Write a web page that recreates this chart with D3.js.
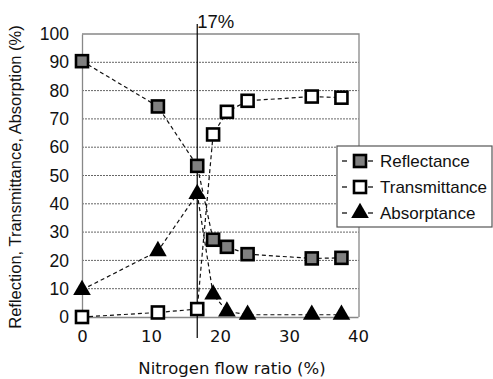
<!DOCTYPE html>
<html><head><meta charset="utf-8">
<script src="https://cdn.jsdelivr.net/npm/d3@7"></script>
<style>body{margin:0;background:#fff}svg{display:block}</style>
</head><body>
<script>
const xTicks = [0, 10, 20, 30, 40];
const yTicks = [0, 10, 20, 30, 40, 50, 60, 70, 80, 90, 100];
const seriesNames = ["Reflectance", "Transmittance", "Absorptance"];
const reflX = [0, 11, 16.7, 19.0, 21.0, 24.0, 33.3, 37.6];
const reflY = [90.4, 74.4, 53.4, 27.3, 24.8, 22.2, 20.7, 20.9];
const transX = [0, 11, 16.7, 19.0, 21.0, 24.0, 33.3, 37.6];
const transY = [0, 1.6, 2.8, 64.5, 72.5, 76.4, 77.9, 77.5];
const absX = [0, 11, 16.7, 19.0, 21.0, 24.0, 33.3, 37.6];
const absY = [9.6, 23.3, 43.5, 8.0, 2.0, 0.8, 0.8, 0.8];
const markerLine = 16.7;
const markerLabel = "17%";

const W = 493, H = 379;
const svg = d3.select("body").append("svg").attr("width", W).attr("height", H);
const x = d3.scaleLinear().domain([0, 40]).range([82, 358]);
const y = d3.scaleLinear().domain([0, 100]).range([317, 34]);
const L = 82, R = 359, T = 34, B = 317;
const ARIAL = "Liberation Sans, Arial, sans-serif";
const VERD = "DejaVu Sans, Verdana, sans-serif";

// gridlines
svg.append("g").selectAll("line").data(yTicks.filter(d => d > 0 && d < 100)).join("line")
  .attr("x1", L).attr("x2", R).attr("y1", d => y(d)).attr("y2", d => y(d))
  .attr("stroke", "#666").attr("stroke-width", 1).attr("stroke-dasharray", "2,1");
// border top/right
svg.append("path").attr("d", `M${L},${T}H${R}V${B}`).attr("fill", "none").attr("stroke", "#888").attr("stroke-width", 1.3);

// axes
const yAxis = svg.append("g").attr("transform", `translate(${L},0)`)
  .call(d3.axisLeft(y).tickValues(yTicks).tickSize(0).tickPadding(13));
yAxis.select(".domain").attr("stroke", "#888").attr("stroke-width", 1.3);
yAxis.selectAll("text").attr("font-family", ARIAL).attr("font-size", 17.5).attr("fill", "#111");
const xAxis = svg.append("g").attr("transform", `translate(0,${B})`)
  .call(d3.axisBottom(x).tickValues(xTicks).tickSize(0).tickPadding(13));
xAxis.select(".domain").attr("stroke", "#888").attr("stroke-width", 1.3);
xAxis.selectAll("text").attr("font-family", VERD).attr("font-size", 16.5).attr("fill", "#111");

// vertical marker line
svg.append("line").attr("x1", x(markerLine)).attr("x2", x(markerLine)).attr("y1", 24).attr("y2", 338)
  .attr("stroke", "#000").attr("stroke-width", 1.2);
svg.append("text").attr("x", x(markerLine)).attr("y", 28).text(markerLabel)
  .attr("font-family", ARIAL).attr("font-size", 18.5).attr("fill", "#111");

const line = d3.line().x(d => x(d[0])).y(d => y(d[1]));
const series = [
  {name: seriesNames[0], pts: d3.zip(reflX, reflY), type: "square", fill: "#808080"},
  {name: seriesNames[1], pts: d3.zip(transX, transY), type: "square", fill: "#fff"},
  {name: seriesNames[2], pts: d3.zip(absX, absY), type: "tri", fill: "#000"}
];
const tri = d3.symbol().type(d3.symbolTriangle).size(135);
function drawMarker(g, s, cx, cy) {
  if (s.type === "square") {
    g.append("rect").attr("x", cx - 6).attr("y", cy - 6).attr("width", 12).attr("height", 12)
      .attr("fill", s.fill).attr("stroke", "#000").attr("stroke-width", 2.6);
  } else {
    g.append("path").attr("d", tri()).attr("transform", `translate(${cx},${cy})`).attr("fill", "#000");
  }
}
series.forEach(s => {
  svg.append("path").attr("d", line(s.pts)).attr("fill", "none").attr("stroke", "#111")
    .attr("stroke-width", 1.2).attr("stroke-dasharray", "4,3");
});
series.forEach(s => {
  const g = svg.append("g");
  s.pts.forEach(p => drawMarker(g, s, x(p[0]), y(p[1])));
});

// legend
const lg = svg.append("g");
lg.append("rect").attr("x", 337).attr("y", 146).attr("width", 155).attr("height", 81)
  .attr("fill", "#fff").attr("stroke", "#555").attr("stroke-width", 1.2);
series.forEach((s, i) => {
  const cy = 161 + i * 26;
  [[342, 347], [368, 373]].forEach(seg => {
    lg.append("line").attr("x1", seg[0]).attr("x2", seg[1]).attr("y1", cy).attr("y2", cy)
      .attr("stroke", "#111").attr("stroke-width", 1.3);
  });
  drawMarker(lg, s, 360, cy);
  lg.append("text").attr("x", 380).attr("y", cy + 6).text(s.name)
    .attr("font-family", ARIAL).attr("font-size", 17).attr("fill", "#111");
});

// axis titles
svg.append("text").attr("transform", "translate(21,177) rotate(-90)").attr("text-anchor", "middle")
  .text("Reflection, Transmittance, Absorption (%)")
  .attr("font-family", ARIAL).attr("font-size", 16.5).attr("fill", "#111");
svg.append("text").attr("x", 232).attr("y", 374).attr("text-anchor", "middle")
  .text("Nitrogen flow ratio (%)")
  .attr("font-family", VERD).attr("font-size", 16.5).attr("fill", "#111");
</script>
</body></html>
